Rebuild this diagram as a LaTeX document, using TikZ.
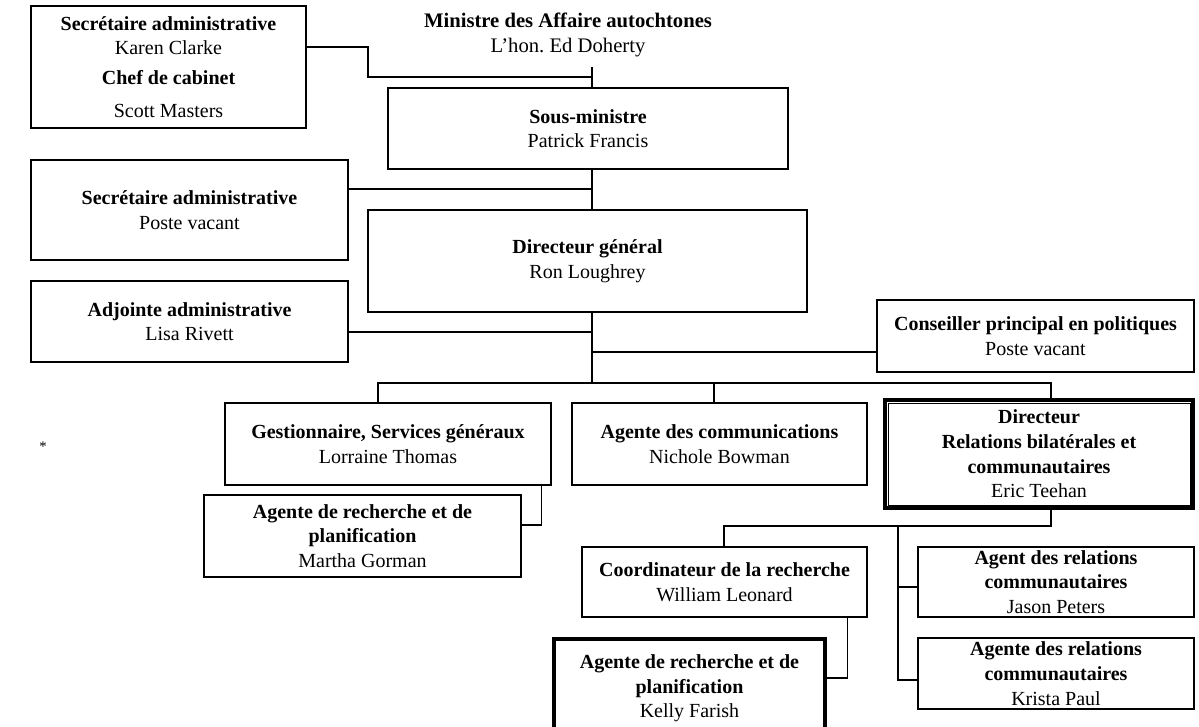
\documentclass[tikz,border=0pt]{standalone}
\usepackage{fontspec}
\setmainfont{Liberation Serif}

% box from (#3,#4) to (#5,#6) in pixel units, named #2
\newcommand\orgbox[7][]{\node[orgbox, #1, minimum width={(#5-#3)*0.75pt}, minimum height={(#6-#4)*0.75pt}] (#2) at ({(#3+#5)/2},{(#4+#6)/2}) {#7};}

\begin{document}
\begin{tikzpicture}[x=0.75pt, y=-0.75pt,
    orgbox/.style={draw, line width=0.8pt, align=center, inner sep=0pt, font=\fontsize{15}{18.5}\selectfont},
    heavy/.style={line width=3pt}]
    \useasboundingbox (0,0) rectangle (1199,727);
    \clip (0,0) rectangle (1199,727);

    % Ministre
    \node[align=center, font=\fontsize{15.5}{19}\selectfont] (minister) at (568,35)
        {\textbf{Ministre des Affaire autochtones}\\L’hon.\ Ed Doherty};

    % Boxes
    \orgbox{sa1}{31}{6}{306}{128}{\textbf{Secrétaire administrative}\\Karen Clarke\\[4pt]\textbf{Chef de cabinet}\\[6pt]Scott Masters}
    \orgbox{sous}{388}{88}{788}{169}{\textbf{Sous-ministre}\\Patrick Francis}
    \orgbox{sa2}{31}{160}{348}{260}{\textbf{Secrétaire administrative}\\Poste vacant}
    \orgbox{dg}{368}{210}{807}{312}{\textbf{Directeur général}\\Ron Loughrey}
    \orgbox{adj}{31}{281}{348}{362}{\textbf{Adjointe administrative}\\Lisa Rivett}
    \orgbox{cons}{877}{300}{1194}{372}{\textbf{Conseiller principal en politiques}\\Poste vacant}
    \orgbox{gest}{225}{403}{551}{485}{\textbf{Gestionnaire, Services généraux}\\Lorraine Thomas}
    \orgbox{com}{572}{403}{867}{485}{\textbf{Agente des communications}\\Nichole Bowman}
    \orgbox[heavy]{dir}{885}{400}{1193}{508}{\textbf{Directeur}\\\textbf{Relations bilatérales et}\\\textbf{communautaires}\\Eric Teehan}
    \draw[line width=0.75pt] ([shift={(5,5)}]dir.north west) rectangle ([shift={(-5,-5)}]dir.south east);
    \orgbox{mar}{204}{495}{521}{577}{\textbf{Agente de recherche et de}\\\textbf{planification}\\Martha Gorman}
    \orgbox{coord}{582}{547}{867}{617}{\textbf{Coordinateur de la recherche}\\William Leonard}
    \orgbox{arel1}{918}{547}{1194}{617}{\textbf{Agent des relations}\\\textbf{communautaires}\\Jason Peters}
    \orgbox{arel2}{918}{638}{1194}{709}{\textbf{Agente des relations}\\\textbf{communautaires}\\Krista Paul}
    \orgbox[heavy]{kelly}{554}{639}{825}{738}{\textbf{Agente de recherche et de}\\\textbf{planification}\\Kelly Farish}

    \node[font=\fontsize{11}{13}\selectfont] (star) at (43,447) {*};

    % Junctions
    \coordinate (jmin) at (592,67);
    \coordinate (jcab) at (592,77);
    \coordinate (jsa2) at (592,189);
    \coordinate (jadj) at (592,332);
    \coordinate (jcons) at (592,352);
    \coordinate (bus) at (592,383);
    \coordinate (busL) at (378,383);
    \coordinate (busC) at (714,383);
    \coordinate (busR) at (1051,383);
    \coordinate (jdir) at (1051,526);
    \coordinate (jcoord) at (724,526);
    \coordinate (jrel) at (898,526);

    % Connectors
    \begin{scope}[line width=0.8pt]
    \draw ([shift={(0,-20)}]sa1.east) -| (368,77) -- (jcab);
    \draw (jmin) -- (sous.north -| jmin);
    \draw (sous.south -| jmin) -- (dg.north -| jmin);
    \draw (sa2.east |- jsa2) -- (jsa2);
    \draw (dg.south -| bus) -- (bus);
    \draw (adj.east |- jadj) -- (jadj);
    \draw (jcons) -- (cons.west |- jcons);
    \draw (gest.north -| busL) -- (busL) -- (busR) -- (dir.north -| busR);
    \draw (busC) -- (com.north -| busC);
    \draw ([shift={(-10,0)}]gest.south east) |- ([shift={(0,-11)}]mar.east);
    \draw (dir.south -| jdir) -- (jdir) -- (jcoord) -- (coord.north -| jcoord);
    \draw (jrel) |- ([shift={(0,5)}]arel1.west);
    \draw (jrel) |- ([shift={(0,6.5)}]arel2.west);
    \draw ([shift={(-20,0)}]coord.south east) |- ([shift={(0,-10.5)}]kelly.east);
    \end{scope}
\end{tikzpicture}
\end{document}
